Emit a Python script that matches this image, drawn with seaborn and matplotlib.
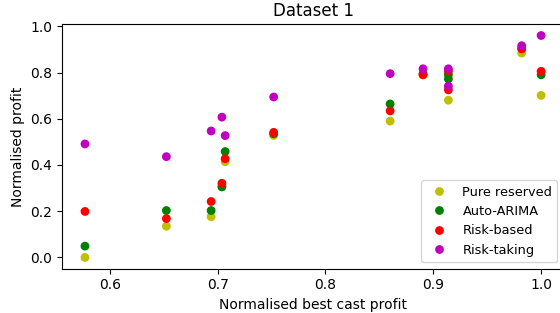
import seaborn as sns
import matplotlib.pyplot as plt
import pandas as pd

# values
best_cast = [0.577, 0.6525, 0.694, 0.704, 0.707, 0.752, 0.860, 0.8905, 0.914, 0.914, 0.982, 1.0]
pure_reserved = [0.0, 0.135, 0.176, 0.31, 0.414, 0.528, 0.590, 0.79, 0.80, 0.68, 0.884, 0.701]
auto_arima = [0.049, 0.203, 0.203, 0.305, 0.458, 0.535, 0.664, 0.795, 0.79, 0.772, 0.905, 0.79]
risk_based = [0.199, 0.168, 0.242, 0.321, 0.427, 0.541, 0.634, 0.790, 0.808, 0.725, 0.902, 0.805]
risk_taking = [0.491, 0.436, 0.547, 0.607, 0.527, 0.694, 0.795, 0.816, 0.816, 0.741, 0.916, 0.960]

methods = ['Pure reserved', 'Auto-ARIMA', 'Risk-based', 'Risk-taking']
colors = ['y', 'g', 'r', 'm']

df = pd.DataFrame({'best': best_cast, 'Pure reserved': pure_reserved,
                   'Auto-ARIMA': auto_arima, 'Risk-based': risk_based,
                   'Risk-taking': risk_taking})
df = df.melt(id_vars='best', var_name='method', value_name='profit')

fig, ax = plt.subplots(figsize=(5.6, 3.13), dpi=100)
fig.subplots_adjust(left=0.111, right=1.007, top=0.922, bottom=0.142)

sns.scatterplot(data=df, x='best', y='profit', hue='method', hue_order=methods,
                palette=dict(zip(methods, colors)), s=40, linewidth=0, ax=ax)

ax.set_title("Dataset 1")
ax.set_xlabel("Normalised best cast profit")
ax.set_ylabel("Normalised profit")
ax.legend(loc='lower right', fontsize=9.3)

plt.savefig("out.png", dpi=100)
